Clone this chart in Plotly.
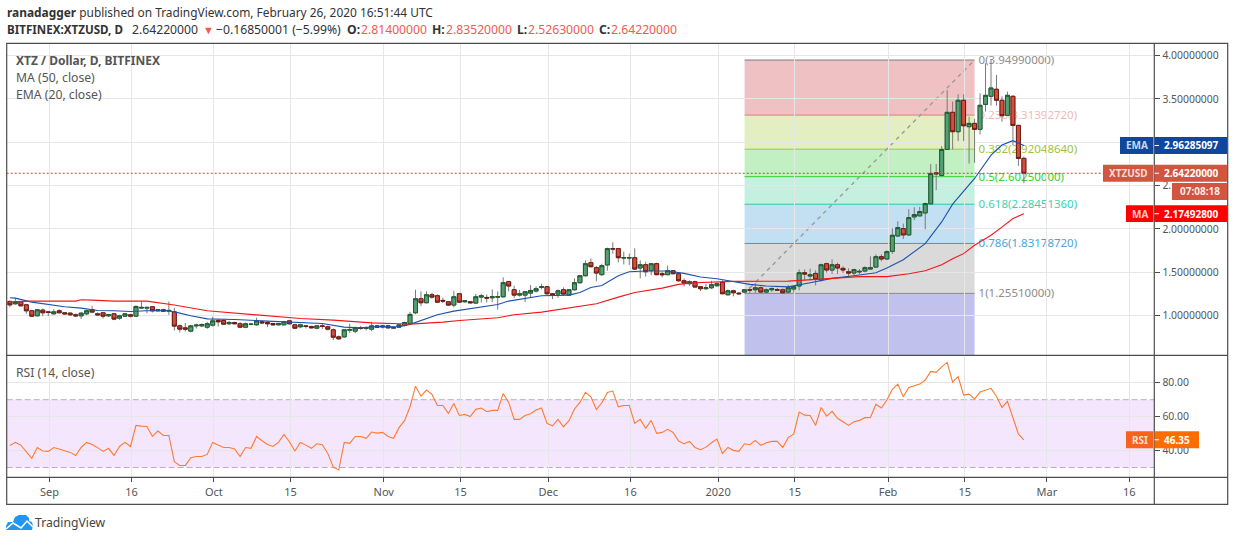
import pandas as pd
import plotly.graph_objects as go

W = 1234
H = 541

#   Daily candles, 2019-08-25 to 2020-02-26
opens = [1.162, 1.135, 1.158, 1.123, 1.054, .996, 1.062, 1.042, 1.019, 1.054, 1.031, 1.027, 1.008, .996, 1.019, 1.066, 1.019, 1.031, .996, 1.019,
         .969, .992, 1.008, .992, 1.085, 1.085, 1.100, 1.054, 1.066, 1.050, 1.042, .880, .857, .819, .880, .880, .865, .888, .942, .942,
         .904, .919, .904, .865, .896, .892, .927, .919, .907, .892, .892, .938, .892, .869, .880, .873, .853, .880, .869, .834,
         .753, .753, .830, .819, .857, .850, .842, .880, .880, .880, .853, .865, .884, .908, 1.031, 1.193, 1.147, 1.239, 1.228, 1.174,
         1.158, 1.120, 1.251, 1.158, 1.158, 1.143, 1.212, 1.208, 1.204, 1.212, 1.216, 1.390, 1.297, 1.235, 1.235, 1.258, 1.282, 1.324, 1.332, 1.251,
         1.247, 1.297, 1.235, 1.297, 1.378, 1.459, 1.610, 1.552, 1.471, 1.583, 1.772, 1.772, 1.664, 1.664, 1.667, 1.548, 1.586, 1.517, 1.598, 1.482,
         1.471, 1.517, 1.482, 1.401, 1.367, 1.390, 1.332, 1.309, 1.320, 1.343, 1.382, 1.239, 1.285, 1.258, 1.270, 1.297, 1.297, 1.320, 1.270, 1.297,
         1.297, 1.297, 1.270, 1.305, 1.340, 1.494, 1.455, 1.486, 1.409, 1.598, 1.525, 1.586, 1.544, 1.505, 1.490, 1.502, 1.513, 1.536, 1.559, 1.679,
         1.652, 1.741, 1.918, 2.003, 1.930, 2.138, 2.150, 2.184, 2.289, 2.647, 2.617, 2.917, 3.346, 3.122, 3.485, 3.180, 3.218, 3.149, 3.438, 3.531,
         3.612, 3.485, 3.311, 3.531, 3.195, 2.814]
highs = [1.174, 1.205, 1.166, 1.135, 1.066, 1.073, 1.081, 1.050, 1.073, 1.073, 1.035, 1.035, 1.023, 1.035, 1.069, 1.112, 1.035, 1.039, 1.019, 1.027,
         1.008, 1.027, 1.019, 1.116, 1.162, 1.100, 1.108, 1.073, 1.077, 1.162, 1.089, .896, .915, .888, .907, .907, .927, .985, .958, .954,
         .938, .927, .923, .919, .904, .973, .934, .934, .915, .915, .938, .950, .904, .904, .888, .880, .888, .911, .884, .850,
         .769, .842, .904, .873, .880, .873, .927, .888, .892, .892, .873, .892, .927, 1.042, 1.297, 1.278, 1.278, 1.262, 1.243, 1.204,
         1.166, 1.285, 1.262, 1.174, 1.166, 1.251, 1.251, 1.243, 1.301, 1.278, 1.440, 1.397, 1.343, 1.297, 1.282, 1.351, 1.336, 1.367, 1.340, 1.258,
         1.301, 1.324, 1.305, 1.428, 1.467, 1.637, 1.660, 1.571, 1.598, 1.783, 1.845, 1.779, 1.737, 1.714, 1.775, 1.637, 1.621, 1.606, 1.610, 1.509,
         1.575, 1.525, 1.494, 1.428, 1.405, 1.401, 1.336, 1.363, 1.401, 1.382, 1.405, 1.301, 1.297, 1.270, 1.305, 1.332, 1.374, 1.336, 1.312, 1.324,
         1.320, 1.312, 1.351, 1.347, 1.532, 1.532, 1.540, 1.521, 1.598, 1.610, 1.648, 1.610, 1.567, 1.544, 1.540, 1.536, 1.567, 1.683, 1.706, 1.706,
         1.752, 2.007, 2.088, 2.061, 2.227, 2.250, 2.254, 2.304, 2.748, 2.748, 2.956, 3.604, 3.469, 3.554, 3.554, 3.295, 3.272, 3.566, 3.913, 3.9499,
         3.778, 3.531, 3.585, 3.542, 3.195, 2.8352]
lows = [1.096, 1.123, 1.104, 1.019, .981, .992, .992, .992, 1.012, 1.023, 1.012, .996, .981, .958, 1.004, 1.027, 1.000, .965, .981, .946,
        .950, .985, .977, .985, 1.077, 1.027, 1.035, 1.046, 1.042, 1.008, .826, .803, .815, .807, .850, .865, .846, .873, .873, .892,
        .888, .896, .857, .853, .888, .884, .904, .865, .884, .884, .888, .896, .846, .853, .850, .850, .842, .842, .826, .715,
        .718, .742, .796, .796, .834, .826, .819, .857, .850, .850, .842, .857, .873, .900, 1.015, 1.108, 1.139, 1.193, 1.147, 1.143,
        1.108, 1.093, 1.147, 1.147, 1.139, 1.135, 1.150, 1.150, 1.154, 1.069, 1.204, 1.278, 1.204, 1.216, 1.154, 1.204, 1.266, 1.301, 1.235, 1.189,
        1.204, 1.228, 1.235, 1.289, 1.367, 1.448, 1.556, 1.394, 1.459, 1.517, 1.714, 1.613, 1.590, 1.583, 1.529, 1.428, 1.448, 1.463, 1.463, 1.440,
        1.467, 1.475, 1.386, 1.336, 1.343, 1.328, 1.282, 1.297, 1.305, 1.332, 1.243, 1.231, 1.220, 1.239, 1.262, 1.251, 1.258, 1.258, 1.255, 1.274,
        1.282, 1.251, 1.266, 1.266, 1.289, 1.405, 1.405, 1.347, 1.390, 1.494, 1.478, 1.478, 1.490, 1.451, 1.455, 1.478, 1.498, 1.529, 1.552, 1.625,
        1.644, 1.710, 1.907, 1.883, 1.922, 2.100, 2.146, 1.995, 2.285, 2.447, 2.609, 2.914, 2.917, 3.014, 3.014, 2.755, 2.763, 3.091, 3.353, 3.423,
        3.423, 3.238, 3.307, 2.968, 2.728, 2.5263]
closes = [1.123, 1.150, 1.112, 1.054, .992, 1.066, 1.031, 1.035, 1.042, 1.031, 1.019, 1.008, .996, 1.027, 1.054, 1.039, 1.008, .992, 1.008, .958,
          .996, 1.019, .992, 1.104, 1.093, 1.093, 1.054, 1.066, 1.050, 1.058, .877, .842, .842, .880, .888, .896, .904, .938, .927, .900,
          .919, .904, .865, .904, .900, .938, .915, .904, .892, .907, .927, .904, .853, .892, .873, .857, .880, .873, .842, .749,
          .730, .834, .838, .857, .850, .861, .880, .865, .869, .857, .861, .892, .919, 1.012, 1.193, 1.147, 1.239, 1.212, 1.154, 1.166,
          1.120, 1.216, 1.154, 1.170, 1.147, 1.216, 1.228, 1.201, 1.216, 1.216, 1.378, 1.340, 1.235, 1.251, 1.274, 1.289, 1.309, 1.332, 1.251, 1.235,
          1.285, 1.247, 1.297, 1.378, 1.459, 1.598, 1.563, 1.490, 1.575, 1.772, 1.768, 1.667, 1.667, 1.667, 1.536, 1.586, 1.505, 1.598, 1.471, 1.471,
          1.517, 1.482, 1.401, 1.374, 1.390, 1.328, 1.309, 1.320, 1.355, 1.367, 1.251, 1.285, 1.262, 1.251, 1.297, 1.293, 1.320, 1.270, 1.297, 1.309,
          1.293, 1.262, 1.320, 1.332, 1.494, 1.478, 1.471, 1.417, 1.586, 1.525, 1.586, 1.548, 1.525, 1.490, 1.529, 1.509, 1.552, 1.552, 1.679, 1.652,
          1.737, 1.926, 2.015, 1.930, 2.130, 2.165, 2.200, 2.292, 2.640, 2.636, 2.917, 3.346, 3.122, 3.485, 3.191, 3.218, 3.149, 3.427, 3.542, 3.627,
          3.485, 3.307, 3.542, 3.195, 2.813, 2.6422]

#   Moving averages, read at the bends of each line (index into the candles)
emaIdx = [0, 1, 4, 7, 10, 13, 16, 19, 22, 25, 29, 31, 33, 36, 41, 46, 50, 53, 57, 61, 64, 67, 71, 73, 75, 78, 81, 84, 89, 91, 94,
          97, 102, 104, 106, 108, 111, 113, 116, 120, 123, 126, 129, 132, 135, 138, 142, 146, 150, 154, 158, 160, 163, 167, 170, 172, 174, 176, 179, 181, 183, 185]
emaVals = [1.204, 1.2, 1.154, 1.127, 1.1, 1.085, 1.058, 1.054, 1.046, 1.054, 1.054, 1.027, .996, .961, .954, .938, .927, .911, .907, .865, .857, .873, .87, .897, .94, 1.008, 1.05, 1.077, 1.127, 1.166, 1.197,
           1.228, 1.235, 1.266, 1.324, 1.347, 1.459, 1.505, 1.513, 1.513, 1.486, 1.444, 1.424, 1.39, 1.359, 1.34, 1.33, 1.378, 1.428, 1.459, 1.494, 1.548, 1.644, 1.83, 2.08, 2.285, 2.44, 2.582, 2.852, 2.968, 3.018, 2.96285]
maIdx = [0, 4, 12, 13, 15, 19, 25, 27, 30, 36, 41, 47, 53, 59, 63, 66, 71, 73, 79, 82, 89, 92, 97, 101, 107, 111, 114, 119, 122, 125, 132, 142, 148, 155, 160, 164, 167, 170, 172, 174, 176, 179, 181, 183, 185]
maVals = [1.158, 1.166, 1.166, 1.181, 1.177, 1.166, 1.166, 1.147, 1.12, 1.054, 1.027, .992, .965, .946, .927, .915, .904, .9, .923, .942, .973, 1.008, 1.039, 1.077, 1.135, 1.212, 1.266, 1.316, 1.359, 1.378, 1.394, 1.397, 1.424, 1.448, 1.448, 1.482, 1.517, 1.586, 1.656, 1.714, 1.81, 1.926, 2.02, 2.119, 2.17493]

#   RSI (14, close)
rsi = [43.0, 44.8, 43.2, 39.3, 35.4, 41.8, 39.7, 39.5, 41.8, 40.9, 39.9, 38.9, 37.1, 41.8, 44.8, 43.6, 41.7, 39.5, 41.3, 37.1,
       42.4, 44.8, 42.4, 54.8, 54.4, 54.2, 48.3, 51.5, 48.9, 48.9, 33.4, 31.2, 31.2, 35.8, 36.5, 36.5, 37.7, 44.8, 43.2, 41.8,
       41.8, 40.9, 36.5, 41.8, 41.3, 48.3, 45.8, 43.6, 42.4, 44.8, 49.5, 45.2, 39.7, 44.8, 43.2, 41.3, 44.0, 43.4, 38.3, 30.2,
       28.5, 44.8, 44.2, 48.3, 48.3, 47.2, 50.9, 50.3, 50.7, 48.3, 47.2, 53.5, 57.6, 65.8, 78.0, 72.1, 75.7, 73.1, 66.6, 66.6,
       61.9, 67.8, 60.7, 61.3, 60.1, 64.3, 65.1, 62.9, 63.7, 63.7, 73.7, 68.4, 58.4, 58.4, 60.7, 61.7, 63.9, 65.1, 56.0, 54.6,
       58.4, 54.0, 57.6, 64.5, 68.4, 74.3, 71.7, 64.3, 68.2, 74.3, 75.1, 65.8, 66.6, 66.6, 56.0, 58.4, 53.1, 57.8, 50.1, 50.7,
       52.5, 50.7, 45.6, 44.0, 45.4, 41.8, 40.5, 42.0, 44.6, 46.8, 38.3, 41.8, 40.1, 39.5, 44.0, 43.4, 46.0, 43.0, 44.6, 45.4,
       45.4, 41.8, 47.6, 49.7, 62.7, 60.9, 60.7, 54.8, 65.4, 60.3, 63.1, 59.0, 57.0, 54.8, 57.0, 57.8, 59.4, 59.5, 67.2, 65.1,
       69.8, 76.1, 79.2, 71.7, 77.2, 78.4, 79.2, 81.6, 86.7, 86.1, 89.4, 92.0, 80.4, 83.7, 72.7, 73.3, 70.4, 74.5, 75.5, 76.7,
       71.9, 65.4, 69.0, 59.0, 49.7, 46.35]

#   Fibonacci retracement
fibLevels = [3.9499, 3.3139272, 2.9204864, 2.6025, 2.2845136, 1.8317872, 1.2551]
fibLabels = ["0(3.94990000)", "0.236(3.31392720)", "0.382(2.92048640)", "0.5(2.60250000)", "0.618(2.28451360)", "0.786(1.83178720)", "1(1.25510000)"]
fibLineCols = ["#7d7d7d", "#d9827c", "#93c94f", "#2ccf2c", "#2ccba6", "#4a94c9", "#8a8a8a"]
fibTextCols = ["#8c8c8c", "#f2b8b5", "#9cc43a", "#35d135", "#3fd1ae", "#4ca3dc", "#8c8c8c"]
fibFills = ["rgba(217,100,105,.4)", "rgba(185,215,102,.4)", "rgba(105,217,102,.4)", "rgba(107,217,177,.4)",
            "rgba(105,177,222,.4)", "rgba(162,162,162,.4)", "rgba(100,100,212,.4)"]
fibStart = "2020-01-05 20:00"
fibEnd = "2020-02-16 19:00"
fibBottom = -0.41

#  3.0 sits wholly behind the EMA tag and only "2." of 2.5 shows past the price tags
priceTicks = [1.0, 1.5, 2.0, 2.5, 3.0, 3.5, 4.0]
priceLabels = ["1.00000000", "1.50000000", "2.00000000", "2.", "", "3.50000000", "4.00000000"]
rsiTicks = [40, 60, 80]
timeTicks = ["2019-09-01", "2019-09-16", "2019-10-01", "2019-10-15", "2019-11-01", "2019-11-15", "2019-12-01",
             "2019-12-16", "2020-01-01", "2020-01-15", "2020-02-01", "2020-02-15", "2020-03-01", "2020-03-16"]
timeLabels = ["Sep", "16", "Oct", "15", "Nov", "15", "Dec", "16", "2020", "15", "Feb", "15", "Mar", "16"]

lastPrice = 2.6422
lastEma = 2.96285097
lastMa = 2.174928
lastRsi = 46.35

font = "Noto Sans"
grey = "#555555"
frame = "#4d4d4d"
grid = "#e6e6e6"


def px(x):
    return x / W


def py(y):
    return 1 - y / H


dates = pd.date_range("2019-08-25", periods=len(closes)) - pd.Timedelta(hours=5)
dates = [d.strftime("%Y-%m-%d %H:%M") for d in dates]

fig = go.Figure()

#  Wicks first, then the bodies on top so wicks stay grey and edges stay dark
fig.add_trace(go.Candlestick(x=dates, open=opens, high=highs, low=lows, close=closes, hoverinfo="skip",
                             increasing=dict(line=dict(color="#7a7a7a", width=1), fillcolor="#53a072"),
                             decreasing=dict(line=dict(color="#7a7a7a", width=1), fillcolor="#d24f3e"),
                             showlegend=False))
bodyTop = [max(o, c) for o, c in zip(opens, closes)]
bodyBot = [min(o, c) for o, c in zip(opens, closes)]
fig.add_trace(go.Candlestick(x=dates, open=opens, high=bodyTop, low=bodyBot, close=closes, hoverinfo="skip",
                             increasing=dict(line=dict(color="#1d5a33", width=1), fillcolor="#53a072"),
                             decreasing=dict(line=dict(color="#6e1a12", width=1), fillcolor="#d24f3e"),
                             showlegend=False))

fig.add_trace(go.Scatter(x=[dates[i] for i in emaIdx], y=emaVals, mode="lines", hoverinfo="skip", showlegend=False,
                         line=dict(color="#1c52ad", width=1.1)))
fig.add_trace(go.Scatter(x=[dates[i] for i in maIdx], y=maVals, mode="lines", hoverinfo="skip", showlegend=False,
                         line=dict(color="#f5161c", width=1.1)))
fig.add_trace(go.Scatter(x=dates, y=rsi, mode="lines", yaxis="y2", hoverinfo="skip", showlegend=False,
                         line=dict(color="#ff7a2f", width=1.1)))

shapes = []

#   Fib bands and levels
bandEdges = fibLevels + [fibBottom]
for i, level in enumerate(fibLevels):
    shapes.append(dict(type="rect", xref="x", yref="y", x0=fibStart, x1=fibEnd, y0=bandEdges[i + 1], y1=bandEdges[i],
                       fillcolor=fibFills[i], line_width=0, layer="below"))
for i, level in enumerate(fibLevels):
    shapes.append(dict(type="line", xref="x", yref="y", x0=fibStart, x1=fibEnd, y0=level, y1=level,
                       line=dict(color=fibLineCols[i], width=1), layer="below",
                       label=dict(text=fibLabels[i], textposition="end", textangle=0, xanchor="left", yanchor="middle",
                                  padding=4, font=dict(family=font, size=11.5, color=fibTextCols[i]))))
shapes.append(dict(type="line", xref="x", yref="y", x0=fibStart, x1=fibEnd, y0=fibLevels[-1], y1=fibLevels[0],
                   line=dict(color="#9a9a9a", width=1.4, dash="4px,4px"), layer="below"))

#   RSI band
shapes.append(dict(type="rect", xref="paper", yref="y2", x0=px(6.7), x1=px(1154.3), y0=30, y1=70,
                   fillcolor="rgba(156,39,240,.11)", line_width=0, layer="below"))
for lvl in [30, 70]:
    shapes.append(dict(type="line", xref="paper", yref="y2", x0=px(6.7), x1=px(1154.3), y0=lvl, y1=lvl,
                       line=dict(color="#b8aebf", width=1, dash="6px,3px"), layer="below"))

#   Last price line
shapes.append(dict(type="line", xref="paper", yref="y", x0=px(6.7), x1=px(1154.3), y0=lastPrice, y1=lastPrice,
                   line=dict(color="#c8402f", width=1, dash="2px,2px"), layer="above"))

#   Chart frame
shapes.append(dict(type="rect", xref="paper", yref="paper", x0=px(6.7), x1=px(1227.7), y0=py(504.3), y1=py(43.3),
                   line=dict(color=frame, width=1.2), layer="above"))
shapes.append(dict(type="line", xref="paper", yref="paper", x0=px(1154.3), x1=px(1154.3), y0=py(504.3), y1=py(43.3),
                   line=dict(color=frame, width=1.2), layer="above"))
for yLine in [355.3, 477.3]:
    shapes.append(dict(type="line", xref="paper", yref="paper", x0=px(6.7), x1=px(1227.7), y0=py(yLine), y1=py(yLine),
                       line=dict(color=frame, width=1.2), layer="above"))

annotations = []


def text(x, y, s, color=grey, size=12, anchor="left", yref="paper"):
    yVal = py(y) if yref == "paper" else y
    annotations.append(dict(xref="paper", yref=yref, x=px(x), y=yVal, text=s, showarrow=False, xanchor=anchor,
                            yanchor="middle", borderpad=0, font=dict(family=font, size=size, color=color)))


def tag(value, left, right, name, label, colLeft, colRight, yref="y"):
    shapes.append(dict(type="rect", xref="paper", yref=yref, ysizemode="pixel", yanchor=value, y0=-8.4, y1=8.4,
                       x0=px(left), x1=px(1153.4), fillcolor=colLeft, line_width=0, layer="above"))
    shapes.append(dict(type="rect", xref="paper", yref=yref, ysizemode="pixel", yanchor=value, y0=-8.4, y1=8.4,
                       x0=px(1154.6), x1=px(right), fillcolor=colRight, line_width=0, layer="above"))
    shapes.append(dict(type="line", xref="paper", yref=yref, x0=px(1154.6), x1=px(1159), y0=value, y1=value,
                       line=dict(color="#ffffff", width=1), layer="above"))
    text((left + 1153.4) / 2, value, "<b>" + name + "</b>", "rgba(255,255,255,.8)", 10, "center", yref)
    text(1163, value, "<b>" + label + "</b>", "#ffffff", 10, "left", yref)


tag(lastEma, 1120, 1227.2, "EMA", "2.96285097", "#0f479c", "#0f479c")
tag(lastPrice, 1103, 1227.2, "XTZUSD", "2.64220000", "#d4553f", "#d4553f")
tag(lastMa, 1126, 1227.2, "MA", "2.17492800", "#ff0000", "#ff0000")
tag(lastRsi, 1126, 1199, "RSI", "46.35", "#f7631b", "#ff6d00", "y2")

#   Countdown under the price tag
shapes.append(dict(type="rect", xref="paper", yref="paper", x0=px(1172), x1=px(1227.2), y0=py(200), y1=py(183),
                   fillcolor="#d4553f", line_width=0, layer="above"))
text(1199.6, 191.5, "<b>07:08:18</b>", "rgba(255,255,255,.9)", 10, "center")

#   Header
red = "#f05a50"
dark = "#333333"
text(6.4, 12.5, "<b>ranadagger</b> published on TradingView.com, February 26, 2020 16:51:44 UTC", dark, 11.9)
text(6.4, 29.5, "<b>BITFINEX:XTZUSD, D</b>", dark, 11.6)
text(131.4, 29.5, "2.64220000", dark, 12.2)
text(202, 29.5, "▼", red, 11)
text(215.4, 29.5, "−0.16850001 (−5.99%)", dark, 12.2)
text(346, 29.5, "<b>O:</b>", dark, 12.2)
text(360.4, 29.5, "2.81400000", red, 12.2)
text(431.4, 29.5, "<b>H:</b>", dark, 12.2)
text(445.4, 29.5, "2.83520000", red, 12.2)
text(516.4, 29.5, "<b>L:</b>", dark, 12.2)
text(527.4, 29.5, "2.52630000", red, 12.2)
text(598, 29.5, "<b>C:</b>", dark, 12.2)
text(610.4, 29.5, "2.64220000", red, 12.2)

#   Pane legends
text(15, 60.5, "<b>XTZ / Dollar, D, BITFINEX</b>", grey, 12)
text(15, 77.5, "MA (50, close)", grey, 12.2)
text(15, 94.5, "EMA (20, close)", grey, 12.2)
text(15, 372.5, "RSI (14, close)", grey, 12.2)

#   TradingView mark
cloud = [(6, 530), (6, 526), (8, 522), (13, 522), (15, 517), (19, 515), (22, 515), (26, 515), (29, 518), (29, 521), (32, 522), (33, 526), (32, 530)]
path = "M" + " L".join(f"{px(a):.5f},{py(b):.5f}" for a, b in cloud) + " Z"
shapes.append(dict(type="path", xref="paper", yref="paper", path=path, fillcolor="#2196f3", line_width=0, layer="above"))
zig = [(6, 529), (13, 523), (21, 528), (27, 521), (33, 527)]
path = "M" + " L".join(f"{px(a):.5f},{py(b):.5f}" for a, b in zig)
shapes.append(dict(type="path", xref="paper", yref="paper", path=path, line=dict(color="#ffffff", width=1.5), layer="above"))
text(34, 522, "TradingView", "#444444", 12.2)

layout = go.Layout(
    width=W, height=H, margin=dict(l=0, r=0, t=0, b=0), paper_bgcolor="#ffffff", plot_bgcolor="#ffffff",
    font=dict(family=font, color=grey, size=11),
    shapes=shapes, annotations=annotations, showlegend=False, dragmode=False,
    boxgap=0.15, boxgroupgap=0.15,
    xaxis=dict(domain=[px(6.7), px(1154.3)], anchor="y2", type="date", range=["2019-08-24 05:00", "2020-03-20 14:00"],
               tickmode="array", tickvals=timeTicks, ticktext=timeLabels, ticks="outside", ticklen=4, tickcolor=frame,
               tickfont=dict(family=font, size=11, color=grey), showgrid=True, gridcolor=grid, gridwidth=1,
               zeroline=False, showline=False, rangeslider=dict(visible=False), tickangle=0),
    yaxis=dict(domain=[py(355.3), py(43.3)], anchor="x", side="right", range=[0.54, 4.143],
               tickmode="array", tickvals=priceTicks, ticktext=priceLabels, ticks="outside", ticklen=5, tickcolor=frame,
               tickfont=dict(family=font, size=10.4, color=grey), showgrid=True, gridcolor=grid, gridwidth=1,
               zeroline=False, showline=False),
    yaxis2=dict(domain=[py(477.3), py(355.3)], anchor="x", side="right", range=[24.2, 96.2],
                tickmode="array", tickvals=rsiTicks, tickformat=".2f", ticks="outside", ticklen=5, tickcolor=frame,
                tickfont=dict(family=font, size=10.4, color=grey), showgrid=True, gridcolor=grid, gridwidth=1,
                zeroline=False, showline=False),
)
fig.update_layout(layout)

fig.write_html("out.html", config=dict(displayModeBar=False),
               post_script="document.body.style.margin='0';document.body.style.overflow='hidden';")
